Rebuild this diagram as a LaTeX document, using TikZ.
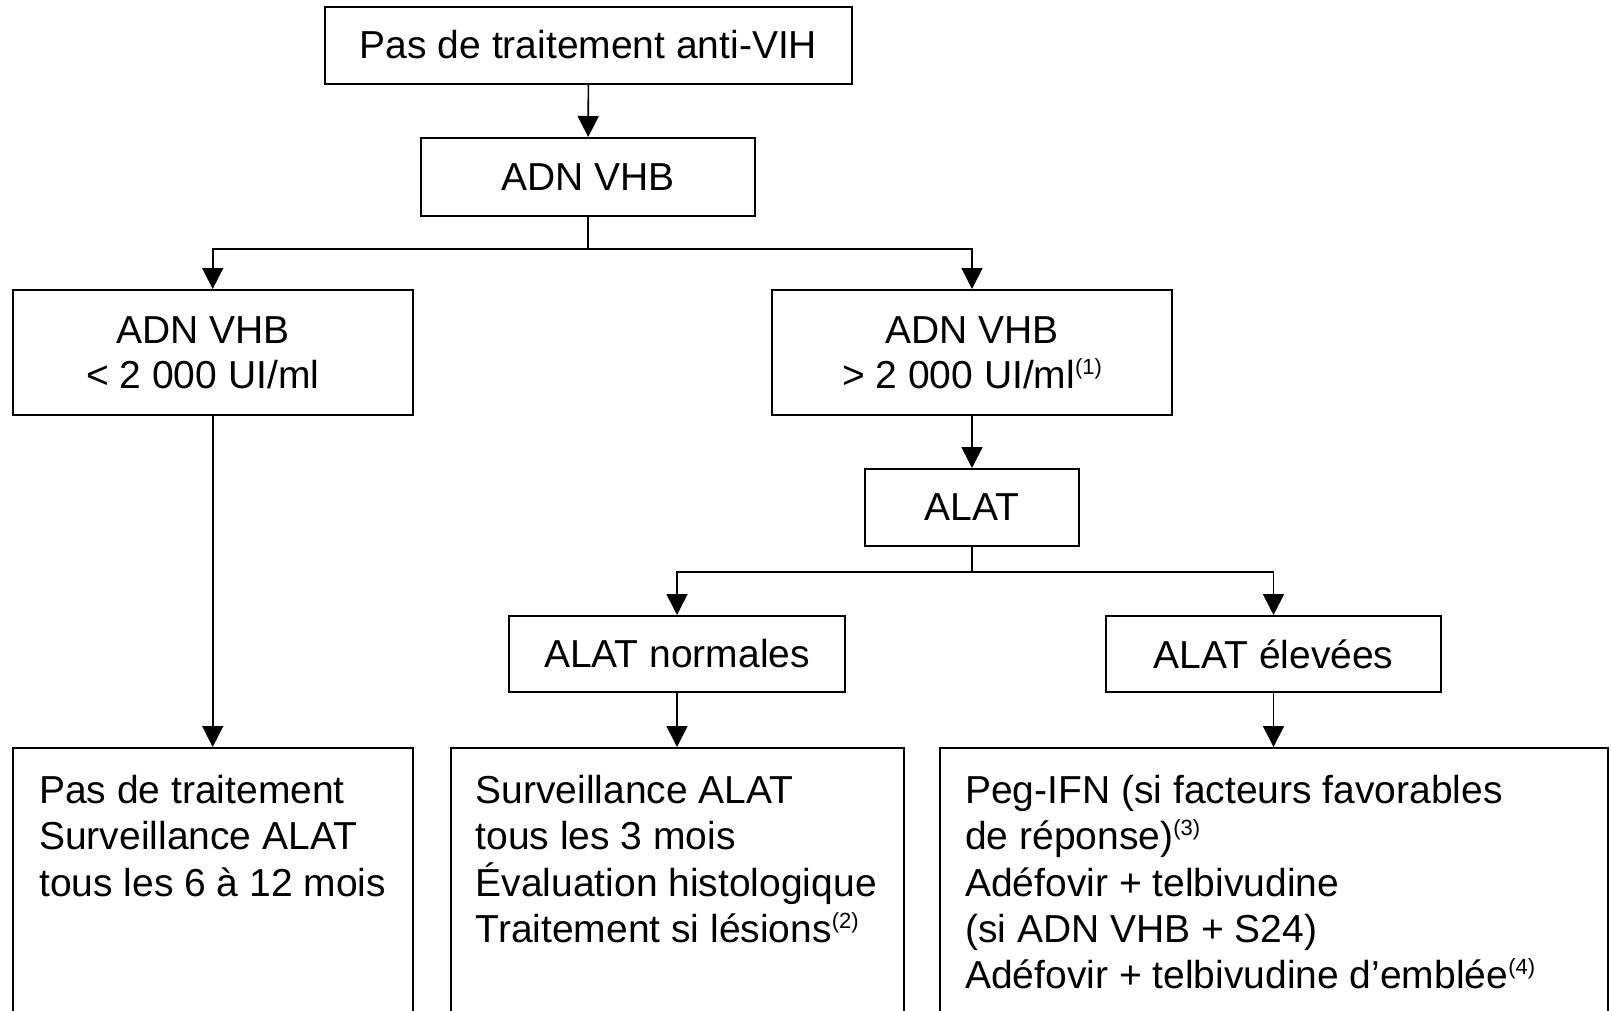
\documentclass[tikz,border=0pt]{standalone}
\usepackage{fontspec}
\setmainfont{Liberation Sans}
\usetikzlibrary{arrows.meta}
\newcommand\fnote[1]{\raisebox{14pt}{\fontsize{22}{22}\selectfont(#1)}}
\begin{document}
\begin{tikzpicture}[x=1pt,y=-1pt,
  box/.style={draw, line width=2pt, rectangle, inner sep=0pt, align=center, font=\fontsize{39}{45}\selectfont},
  conn/.style={line width=1.6pt},
  arr/.style={conn, -{Triangle[length=21pt,width=21pt]}},
  txt/.style={inner sep=0pt, anchor=north west, align=left, font=\fontsize{39}{46.3}\selectfont}]
\useasboundingbox[fill=white] (0,0) rectangle (1611,1010);

\node[box, minimum width=527pt, minimum height=77pt] (top) at (588.5,45) {Pas de traitement anti-VIH};
\node[box, minimum width=334pt, minimum height=78pt] (adn) at (588,177) {ADN VHB};
\node[box, minimum width=400pt, minimum height=125pt] (lo) at (212.7,352.5) {ADN VHB\hspace*{20pt}\\< 2~000 UI/ml\hspace*{20pt}};
\node[box, minimum width=400pt, minimum height=125pt] (hi) at (972,352.5) {ADN VHB\\> 2~000 UI/ml\fnote{1}};
\node[box, minimum width=214pt, minimum height=77pt] (alat) at (972,507.5) {ALAT};
\node[box, minimum width=336pt, minimum height=76pt] (norm) at (677,654) {ALAT normales};
\node[box, minimum width=335pt, minimum height=76pt] (elev) at (1273.5,654) {ALAT élevées};

\node[box, anchor=north, minimum width=400pt, minimum height=300pt] (b1) at (213,747) {};
\node[box, anchor=north, minimum width=453pt, minimum height=300pt] (b2) at (677.5,747) {};
\node[box, anchor=north, minimum width=668pt, minimum height=300pt] (b3) at (1274,747) {};

\node[txt] (b1t) at ([xshift=27pt,yshift=-28pt]b1.north west) {Pas de traitement\\Surveillance ALAT\\tous les 6 à 12 mois};
\node[txt] (b2t) at ([xshift=25.5pt,yshift=-28pt]b2.north west) {Surveillance ALAT\\tous les 3 mois\\Évaluation histologique\\Traitement si lésions\fnote{2}};
\node[txt] (b3t) at ([xshift=26pt,yshift=-28pt]b3.north west) {Peg-IFN (si facteurs favorables\\de réponse)\fnote{3}\\Adéfovir + telbivudine\\(si ADN VHB + S24)\\Adéfovir + telbivudine d’emblée\fnote{4}};

\draw[arr] (top) -- (adn);
\coordinate (s1) at (588,249);
\draw[conn] (adn.south) -- (s1);
\draw[arr] (s1) -| (lo.north);
\draw[arr] (s1) -| (hi.north);
\draw[arr] (lo.south) -- (lo.south |- b1.north);
\draw[arr] (hi) -- (alat);
\coordinate (s2) at (972,571.7);
\draw[conn] (alat.south) -- (s2);
\draw[arr] (s2) -| (norm.north);
\draw[arr] (s2) -| (elev.north);
\draw[arr] (norm.south) -- (norm.south |- b2.north);
\draw[arr] (elev.south) -- (elev.south |- b3.north);
\end{tikzpicture}
\end{document}
